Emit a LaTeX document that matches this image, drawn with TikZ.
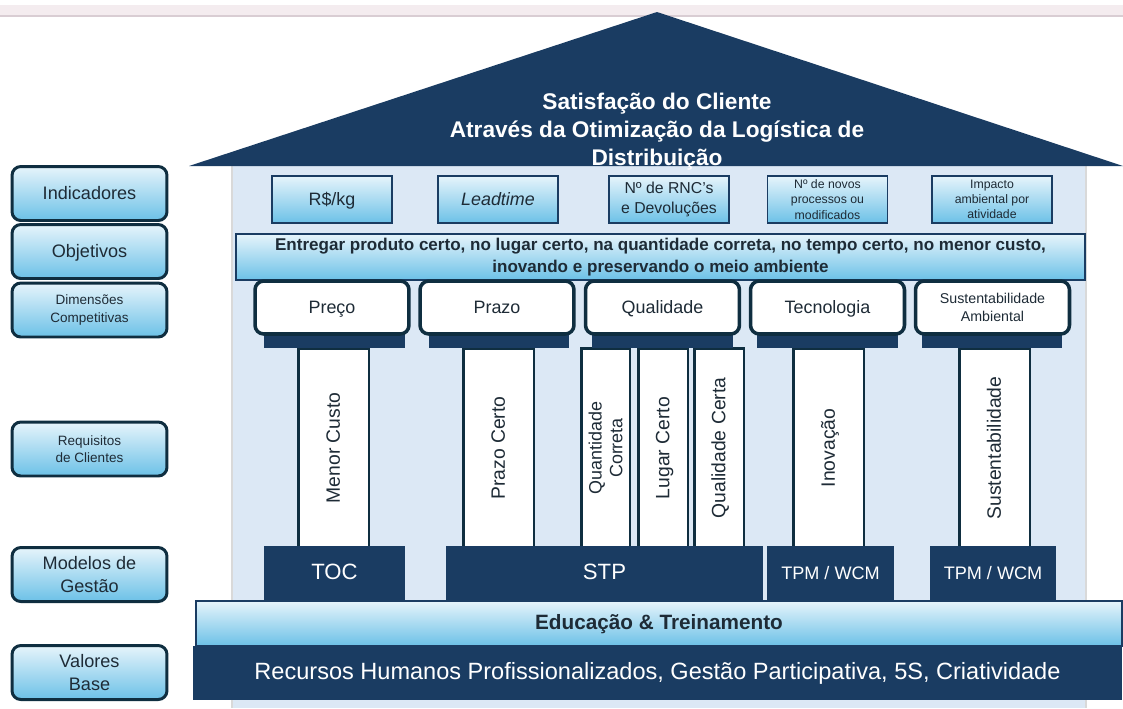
\documentclass[tikz,border=0pt]{standalone}
\usepackage{fontspec}
\setmainfont{Liberation Sans}
\usepackage{tikz}
\definecolor{navy}{HTML}{1A3C62}
\definecolor{edgeblue}{HTML}{0F2E40}
\definecolor{housebg}{HTML}{DCE8F5}
\definecolor{gradtop}{HTML}{E6F4FB}
\definecolor{gradbot}{HTML}{6CC1E7}
\definecolor{textdark}{HTML}{1E2B36}
\definecolor{topband}{HTML}{F4ECEF}
\definecolor{bandline}{HTML}{D9CDD3}
\tikzstyle{side}=[rectangle, rounded corners=5pt, draw=edgeblue, line width=1.7pt, top color=gradtop, bottom color=gradbot, minimum width=3.1cm, minimum height=1.08cm, align=center, text=textdark, inner sep=0pt]
\tikzstyle{ind}=[rectangle, draw=navy, line width=1.1pt, top color=gradtop, bottom color=gradbot, minimum width=2.4cm, minimum height=0.94cm, align=center, text=textdark, inner sep=0pt]
\tikzstyle{dim}=[rectangle, rounded corners=5pt, draw=edgeblue, line width=2pt, fill=white, minimum width=3.08cm, minimum height=1.06cm, align=center, text=textdark, inner sep=0pt]
\tikzstyle{pillartop}=[rectangle, fill=navy, minimum width=2.82cm, minimum height=0.28cm, inner sep=0pt]
\tikzstyle{col}=[rectangle, draw=edgeblue, line width=1.7pt, fill=white, rotate=90, minimum width=4cm, minimum height=1.42cm, align=center, text=textdark, inner sep=0pt, font=\fontsize{11}{13}\selectfont]
\tikzstyle{model}=[rectangle, fill=navy, text=white, minimum height=1.1cm, inner sep=0pt]
\tikzstyle{bar}=[rectangle, draw=navy, line width=0.8pt, top color=gradtop, bottom color=gradbot, align=center, text=textdark, inner sep=0pt]
\tikzstyle{one}=[text height=0.72em, text depth=0pt]
\begin{document}
\begin{tikzpicture}[x=0.02cm, y=-0.02cm]
				\useasboundingbox (0,0) rectangle (1123,708);
				%The background
				\fill[topband] (0,5) rectangle (1123,16);
				\draw[bandline, line width=0.8pt] (0,16) -- (1123,16);
				\fill[housebg] (232,165) rectangle (1086,708);
				\draw[black!15, line width=1pt] (232,165) -- (232,708);
				\draw[black!15, line width=1pt] (1086,165) -- (1086,708);
				
				%The roof
				\fill[navy] (189,166) -- (657,12) -- (1123,166) -- cycle;
				\draw (657,132) node[text=white, align=center, font=\bfseries\fontsize{12.9}{16}\selectfont] (title) {Satisfação do Cliente\\Através da Otimização da Logística de\\Distribuição};
				
				%The side labels
				\draw (89.5,193.5) node[side, one, font=\fontsize{10.3}{12.8}\selectfont] (indic) {Indicadores};
				\draw (89.5,251.5) node[side, one, font=\fontsize{10.3}{12.8}\selectfont] (objet) {Objetivos};
				\draw (89.5,310) node[side, font=\fontsize{7.7}{9.9}\selectfont] (dimen) {Dimensões\\Competitivas};
				\draw (89.5,449) node[side, font=\fontsize{7.7}{9.9}\selectfont] (requi) {Requisitos\\de Clientes};
				\draw (89.5,574.5) node[side, font=\fontsize{10.3}{12.8}\selectfont] (model) {Modelos de\\Gestão};
				\draw (89.5,672.5) node[side, font=\fontsize{10.3}{12.8}\selectfont] (valor) {Valores\\Base};
				
				%The indicators
				\draw (332,199.5) node[ind, one, font=\fontsize{10.2}{12}\selectfont] (i1) {R\$/kg};
				\draw (498,199.5) node[ind, one, font=\itshape\fontsize{10.2}{12}\selectfont] (i2) {Leadtime};
				\draw (669,199.5) node[ind, font=\fontsize{9}{11.3}\selectfont] (i3) {Nº de RNC's\\e Devoluções};
				\draw (827.5,199.5) node[ind, font=\fontsize{7}{8.7}\selectfont] (i4) {Nº de novos\\processos ou\\modificados};
				\draw (992,199.5) node[ind, font=\fontsize{7}{8.7}\selectfont] (i5) {Impacto\\ambiental por\\atividade};
				
				%The objectives
				\draw (660.5,257) node[bar, minimum width=16.98cm, minimum height=0.92cm, font=\bfseries\fontsize{9.7}{12.5}\selectfont] (obj) {Entregar produto certo, no lugar certo, na quantidade correta, no tempo certo, no menor custo,\\inovando e preservando o meio ambiente};
				
				%The columns
				\draw (333.5,448) node[col, one] (c1) {Menor Custo};
				\draw (498.5,448) node[col, one] (c2) {Prazo Certo};
				\draw (605.5,448) node[col, minimum height=0.98cm, font=\fontsize{10.2}{11.8}\selectfont] (c3) {Quantidade\\Correta};
				\draw (663,448) node[col, one, minimum height=1.0cm] (c4) {Lugar Certo};
				\draw (719,448) node[col, one, minimum height=1.0cm] (c5) {Qualidade Certa};
				\draw (828.5,448) node[col, one] (c6) {Inovação};
				\draw (994.5,448) node[col, one] (c7) {Sustentabilidade};
				
				%The caps and the competitive dimensions
				\draw (334.5,341) node[pillartop] (k1) {};
				\draw (499,341) node[pillartop] (k2) {};
				\draw (662.5,341) node[pillartop] (k3) {};
				\draw (827.5,341) node[pillartop] (k4) {};
				\draw (992,341) node[pillartop] (k5) {};
				\draw (332,307.5) node[dim, one, font=\fontsize{10.2}{12}\selectfont] (d1) {Preço};
				\draw (497,307.5) node[dim, one, font=\fontsize{10.2}{12}\selectfont] (d2) {Prazo};
				\draw (662.5,307.5) node[dim, one, font=\fontsize{10.2}{12}\selectfont] (d3) {Qualidade};
				\draw (827.5,307.5) node[dim, one, font=\fontsize{10.2}{12}\selectfont] (d4) {Tecnologia};
				\draw (992.5,307.5) node[dim, font=\fontsize{8.1}{10.2}\selectfont] (d5) {Sustentabilidade\\Ambiental};
				
				%The management models
				\draw (334.5,573.5) node[model, one, minimum width=2.82cm, font=\fontsize{12.6}{15}\selectfont] (m1) {TOC};
				\draw (604.5,573.5) node[model, one, minimum width=6.34cm, font=\fontsize{12.6}{15}\selectfont] (m2) {STP};
				\draw (830.5,573.5) node[model, one, minimum width=2.54cm, font=\fontsize{10.3}{12}\selectfont] (m3) {TPM / WCM};
				\draw (993,573.5) node[model, one, minimum width=2.52cm, font=\fontsize{10.3}{12}\selectfont] (m4) {TPM / WCM};
				
				%The base
				\draw (659,623.5) node[bar, one, minimum width=18.52cm, minimum height=0.9cm, font=\bfseries\fontsize{11.8}{14}\selectfont] (edu) {Educação \& Treinamento};
				\draw (657.5,673) node[model, one, minimum width=18.58cm, minimum height=1.08cm, font=\fontsize{13.4}{16}\selectfont] (base) {Recursos Humanos Profissionalizados, Gestão Participativa, 5S, Criatividade};
			\end{tikzpicture}
\end{document}
